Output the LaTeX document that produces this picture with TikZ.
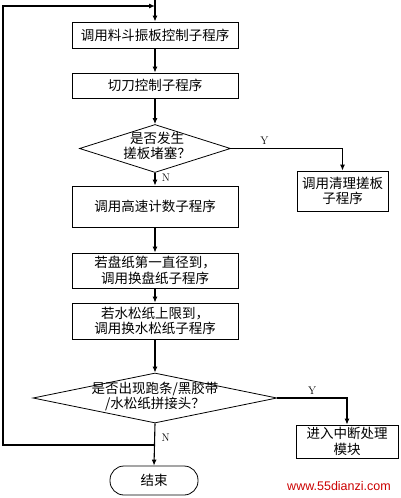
\documentclass[tikz,border=0pt]{standalone}
\usepackage{fontspec}
\newfontfamily\cjk{Noto Sans CJK SC}
\newfontfamily\wmfont{Liberation Sans}
\usetikzlibrary{shapes.geometric,arrows.meta}
\begin{document}
\begin{tikzpicture}[x=1pt,y=-1pt,
  box/.style={draw,line width=0.8pt,minimum width=166pt,inner sep=0pt,align=center,font=\cjk\fontsize{13.5}{15.5}\selectfont},
  rbox/.style={draw,line width=0.8pt,inner sep=0pt,align=center,font=\cjk\fontsize{13.5}{15.5}\selectfont},
  dia/.style={draw,line width=0.8pt,diamond,inner sep=0pt},
  dtext/.style={align=center,font=\cjk\fontsize{13.5}{15}\selectfont},
  term/.style={draw,line width=0.8pt,rounded corners=14pt,minimum width=88pt,minimum height=29pt,inner sep=0pt,font=\cjk\fontsize{13.5}{15.5}\selectfont},
  flow/.style={line width=1.1pt,-{Latex[length=6pt,width=5pt]}},
  plain/.style={line width=1.1pt},
  lab/.style={font=\fontsize{11}{12}\selectfont}]
\useasboundingbox (0,0) rectangle (400,498);
\fill[white] (0,0) rectangle (400,498);

\coordinate (top) at (155,0);
\node[box,minimum height=26pt] (b1) at (155,35) {调用料斗振板控制子程序};
\node[box,minimum height=25pt] (b2) at (155,85.5) {切刀控制子程序};
\node[dia,minimum width=151pt,minimum height=48pt] (d1) at (155,148.5) {};
\node[dtext] (d1t) at (157,146) {是否发生\\搓板堵塞？};
\node[rbox,minimum width=91pt,minimum height=40pt] (r1) at (342.5,191) {调用清理搓板\\子程序};
\node[box,minimum height=41pt] (b3) at (155,206.5) {调用高速计数子程序};
\node[box,minimum height=35pt] (b4) at (155,270.5) {若盘纸第一直径到，\\调用换盘纸子程序};
\node[box,minimum height=36pt] (b5) at (155,321) {若水松纸上限到，\\调用换水松纸子程序};
\node[dia,minimum width=244pt,minimum height=50pt] (d2) at (155,398) {};
\node[dtext] (d2t) at (155,396) {是否出现跑条/黑胶带\\/水松纸拼接头？};
\node[rbox,minimum width=102pt,minimum height=33pt] (r2) at (347,441.5) {进入中断处理\\模块};
\node[term] (end) at (154,480.5) {结束};
\node[text=red!80!black,font=\wmfont\fontsize{12.5}{14}\selectfont] (wm) at (339,486) {www.55dianzi.com};

\coordinate (j) at (155,445);
\coordinate (lb) at (3,445);
\coordinate (lt) at (3,6);
\coordinate (jt) at (155,6);

\draw[flow] (top) -- (b1.north);
\draw[flow] (b1) -- (b2);
\draw[flow] (b2) -- (d1.north);
\draw[flow] (d1.south) -- node[lab,right,pos=0.4,xshift=3pt] {N} (b3.north);
\draw[flow] (d1.east) -- node[lab,above,pos=0.3] {Y} (r1.north |- d1.east) -- (r1.north);
\draw[flow] (b3) -- (b4);
\draw[flow] (b4) -- (b5);
\draw[flow] (b5) -- (d2.north);
\draw[flow] (d2.east) -- node[lab,above,pos=0.5] {Y} (r2.north |- d2.east) -- (r2.north);
\draw[flow] (d2.south) -- node[lab,right,pos=0.35,xshift=3pt] {N} (end.north);
\draw[plain,-{Latex[length=6pt,width=5pt]}] (j) -- (lb) -- (lt) -- (jt);
\end{tikzpicture}
\end{document}
